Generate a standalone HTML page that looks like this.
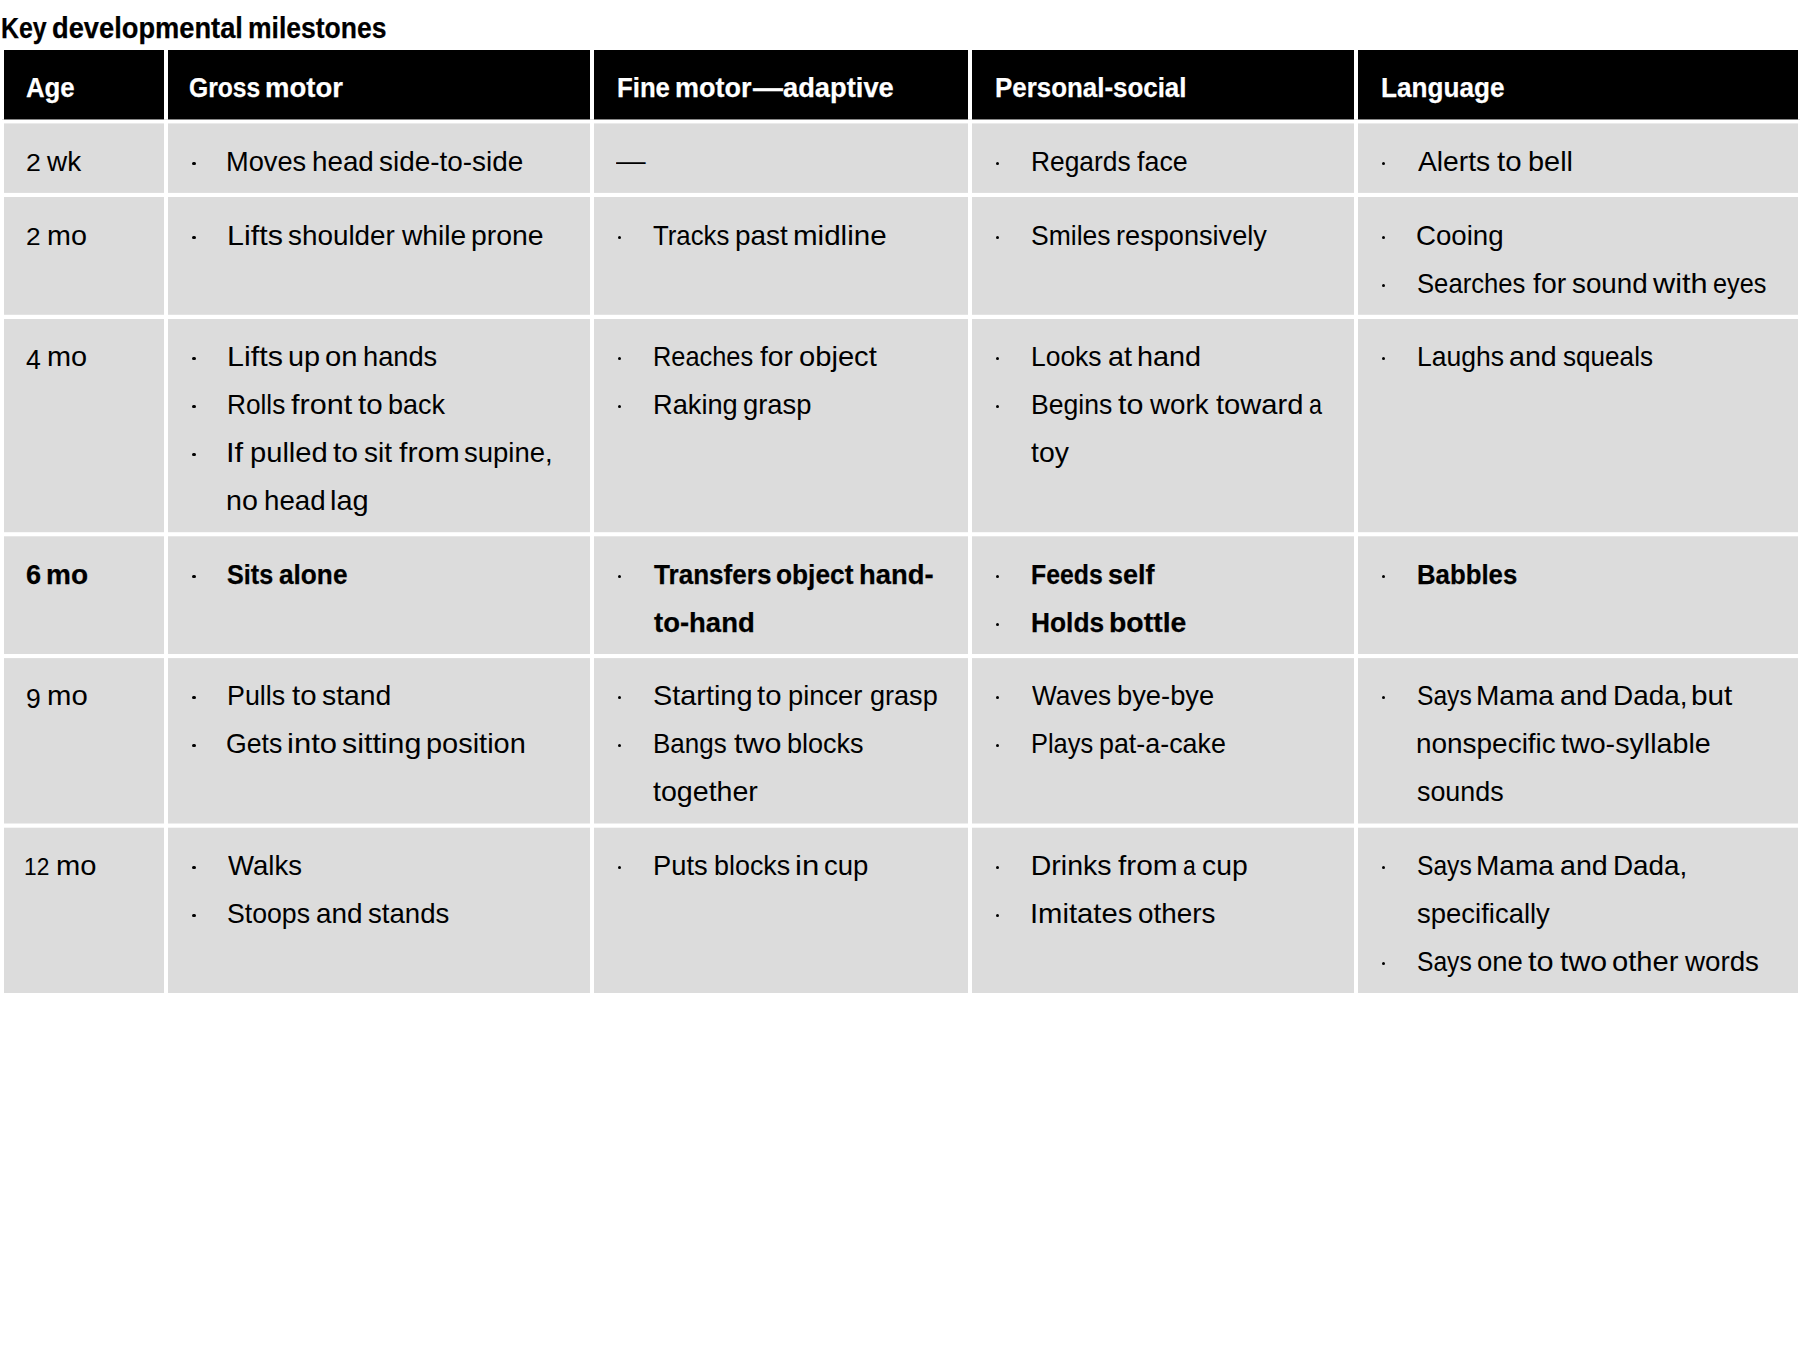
<!DOCTYPE html>
<html lang="en">
<head>
<meta charset="utf-8">
<title>Key developmental milestones</title>
<style>
html,body{margin:0;padding:0;background:#fff}
body{width:1802px;height:1350px;position:relative;overflow:hidden;font-family:"Liberation Sans",sans-serif;font-size:28.5px;color:#000}
h1{margin:0;font-size:29px;font-weight:bold;position:absolute;left:0;top:0;width:1802px;height:46px}
.bg{position:absolute;left:0;top:0;display:block}
.tbl{position:absolute;left:0;top:0;width:1802px}
.c{position:absolute}
.h{color:#fff;font-weight:bold}
.t{position:absolute;white-space:nowrap;line-height:1;transform-origin:0 0;display:block}
ul,li{margin:0;padding:0;list-style:none}
.b{position:absolute;width:3.4px;height:3.4px;border-radius:50%;background:#000}
.s .t{font-weight:bold}
.dx{font-size:.82em}
.dd{position:relative;top:.12em}
.h .t,.s .t,h1 .t{-webkit-text-stroke:.25px}
</style>
</head>
<body>
<svg class="bg" width="1802" height="1350" viewBox="0 0 1802 1350" aria-hidden="true"><rect x="2" y="119" width="1798" height="1" fill="#e2e2e2"/><g fill="#000"><rect x="4" y="50" width="160" height="69.4"/><rect x="168" y="50" width="422" height="69.4"/><rect x="594" y="50" width="374" height="69.4"/><rect x="972" y="50" width="382" height="69.4"/><rect x="1358" y="50" width="440" height="69.4"/></g><g fill="#dcdcdc"><rect x="4" y="123.4" width="160" height="69.5"/><rect x="168" y="123.4" width="422" height="69.5"/><rect x="594" y="123.4" width="374" height="69.5"/><rect x="972" y="123.4" width="382" height="69.5"/><rect x="1358" y="123.4" width="440" height="69.5"/></g><g fill="#dcdcdc"><rect x="4" y="197" width="160" height="117.8"/><rect x="168" y="197" width="422" height="117.8"/><rect x="594" y="197" width="374" height="117.8"/><rect x="972" y="197" width="382" height="117.8"/><rect x="1358" y="197" width="440" height="117.8"/></g><g fill="#dcdcdc"><rect x="4" y="319" width="160" height="213.2"/><rect x="168" y="319" width="422" height="213.2"/><rect x="594" y="319" width="374" height="213.2"/><rect x="972" y="319" width="382" height="213.2"/><rect x="1358" y="319" width="440" height="213.2"/></g><g fill="#dcdcdc"><rect x="4" y="536.3" width="160" height="117.7"/><rect x="168" y="536.3" width="422" height="117.7"/><rect x="594" y="536.3" width="374" height="117.7"/><rect x="972" y="536.3" width="382" height="117.7"/><rect x="1358" y="536.3" width="440" height="117.7"/></g><g fill="#dcdcdc"><rect x="4" y="658.1" width="160" height="165.4"/><rect x="168" y="658.1" width="422" height="165.4"/><rect x="594" y="658.1" width="374" height="165.4"/><rect x="972" y="658.1" width="382" height="165.4"/><rect x="1358" y="658.1" width="440" height="165.4"/></g><g fill="#dcdcdc"><rect x="4" y="827.7" width="160" height="165.3"/><rect x="168" y="827.7" width="422" height="165.3"/><rect x="594" y="827.7" width="374" height="165.3"/><rect x="972" y="827.7" width="382" height="165.3"/><rect x="1358" y="827.7" width="440" height="165.3"/></g></svg>
<h1><span class="t" style="left:0.8px;top:14.25px;transform:scaleX(0.8583);font-size:29px">Key</span> <span class="t" style="left:51.76px;top:14.25px;transform:scaleX(0.9403);font-size:29px">developmental</span> <span class="t" style="left:248.2px;top:14.25px;transform:scaleX(0.9136);font-size:29px">milestones</span></h1>
<div class="tbl" role="table">
<div role="row">
<div class="c h" role="columnheader" style="left:4px;top:50px;width:160px;height:69.4px"><span class="t" style="left:22.05px;top:22.87px;transform:scaleX(0.9048)">Age</span></div>
<div class="c h" role="columnheader" style="left:168px;top:50px;width:422px;height:69.4px"><span class="t" style="left:21.44px;top:22.87px;transform:scaleX(0.8648)">Gross</span> <span class="t" style="left:97.01px;top:22.87px;transform:scaleX(0.9651)">motor</span></div>
<div class="c h" role="columnheader" style="left:594px;top:50px;width:374px;height:69.4px"><span class="t" style="left:22.62px;top:22.87px;transform:scaleX(0.9036)">Fine</span> <span class="t" style="left:81.14px;top:22.87px;transform:scaleX(0.9460)">motor</span><span class="t" style="left:159.4px;top:22.87px;transform:scaleX(1.0491)">—</span><span class="t" style="left:189.38px;top:22.87px;transform:scaleX(0.9579)">adaptive</span></div>
<div class="c h" role="columnheader" style="left:972px;top:50px;width:382px;height:69.4px"><span class="t" style="left:22.61px;top:22.87px;transform:scaleX(0.9087)">Personal-social</span></div>
<div class="c h" role="columnheader" style="left:1358px;top:50px;width:440px;height:69.4px"><span class="t" style="left:22.59px;top:22.87px;transform:scaleX(0.9174)">Language</span></div>
</div>
<div role="row">
<div class="c" role="cell" style="left:4px;top:123.4px;width:160px;height:69.5px"><span class="t" style="left:21.87px;top:23.47px;transform:scaleX(1.1429)"><span class="dx">2</span></span> <span class="t" style="left:43px;top:23.47px;transform:scaleX(0.9784)">wk</span></div>
<div class="c" role="cell" style="left:168px;top:123.4px;width:422px;height:69.5px"><ul><li><i class="b" style="left:24.3px;top:38.5px"></i><span class="t" style="left:57.85px;top:23.47px;transform:scaleX(0.9548)">Moves</span> <span class="t" style="left:143.65px;top:23.47px;transform:scaleX(0.9748)">head</span> <span class="t" style="left:210.67px;top:23.47px;transform:scaleX(0.9797)">side-to-side</span></li>
</ul></div>
<div class="c" role="cell" style="left:594px;top:123.4px;width:374px;height:69.5px"><span class="t" style="left:22.4px;top:22.47px;transform:scaleX(1.0386)">—</span></div>
<div class="c" role="cell" style="left:972px;top:123.4px;width:382px;height:69.5px"><ul><li><i class="b" style="left:23.9px;top:38.5px"></i><span class="t" style="left:58.92px;top:23.47px;transform:scaleX(0.9244)">Regards</span> <span class="t" style="left:165.23px;top:23.47px;transform:scaleX(0.9423)">face</span></li>
</ul></div>
<div class="c" role="cell" style="left:1358px;top:123.4px;width:440px;height:69.5px"><ul><li><i class="b" style="left:23.8px;top:38.5px"></i><span class="t" style="left:59.9px;top:23.47px;transform:scaleX(0.9909)">Alerts</span> <span class="t" style="left:138.88px;top:23.47px;transform:scaleX(1.0318)">to</span> <span class="t" style="left:169.63px;top:23.47px;transform:scaleX(1.0135)">bell</span></li>
</ul></div>
</div>
<div role="row">
<div class="c" role="cell" style="left:4px;top:197px;width:160px;height:117.8px"><span class="t" style="left:22.4px;top:23.87px;transform:scaleX(1.1238)"><span class="dx">2</span></span> <span class="t" style="left:42.68px;top:23.87px;transform:scaleX(1.0082)">mo</span></div>
<div class="c" role="cell" style="left:168px;top:197px;width:422px;height:117.8px"><ul><li><i class="b" style="left:24.3px;top:38.9px"></i><span class="t" style="left:58.59px;top:23.87px;transform:scaleX(1.0694)">Lifts</span> <span class="t" style="left:119.97px;top:23.87px;transform:scaleX(0.9778)">shoulder</span> <span class="t" style="left:233.6px;top:23.87px;transform:scaleX(0.9882)">while</span> <span class="t" style="left:303.26px;top:23.87px;transform:scaleX(0.9957)">prone</span></li>
</ul></div>
<div class="c" role="cell" style="left:594px;top:197px;width:374px;height:117.8px"><ul><li><i class="b" style="left:23.6px;top:38.9px"></i><span class="t" style="left:59.22px;top:23.87px;transform:scaleX(0.9039)">Tracks</span> <span class="t" style="left:141.09px;top:23.87px;transform:scaleX(0.9788)">past</span> <span class="t" style="left:199.43px;top:23.87px;transform:scaleX(1.0368)">midline</span></li>
</ul></div>
<div class="c" role="cell" style="left:972px;top:197px;width:382px;height:117.8px"><ul><li><i class="b" style="left:23.9px;top:38.9px"></i><span class="t" style="left:58.74px;top:23.87px;transform:scaleX(0.9297)">Smiles</span> <span class="t" style="left:144.3px;top:23.87px;transform:scaleX(0.9523)">responsively</span></li>
</ul></div>
<div class="c" role="cell" style="left:1358px;top:197px;width:440px;height:117.8px"><ul><li><i class="b" style="left:23.8px;top:38.9px"></i><span class="t" style="left:58.44px;top:23.87px;transform:scaleX(0.9701)">Cooing</span></li>
<li><i class="b" style="left:23.8px;top:86.9px"></i><span class="t" style="left:58.77px;top:71.87px;transform:scaleX(0.9008)">Searches</span> <span class="t" style="left:174.6px;top:71.87px;transform:scaleX(0.9953)">for</span> <span class="t" style="left:213.77px;top:71.87px;transform:scaleX(0.9747)">sound</span> <span class="t" style="left:295.4px;top:71.87px;transform:scaleX(1.0769)">with</span> <span class="t" style="left:355.19px;top:71.87px;transform:scaleX(0.8862)">eyes</span></li>
</ul></div>
</div>
<div role="row">
<div class="c" role="cell" style="left:4px;top:319px;width:160px;height:213.2px"><span class="t" style="left:22px;top:22.87px;transform:scaleX(0.9333)"><span class="dd">4</span></span> <span class="t" style="left:43.27px;top:22.87px;transform:scaleX(1.0137)">mo</span></div>
<div class="c" role="cell" style="left:168px;top:319px;width:422px;height:213.2px"><ul><li><i class="b" style="left:24.3px;top:37.9px"></i><span class="t" style="left:58.59px;top:22.87px;transform:scaleX(1.0694)">Lifts</span> <span class="t" style="left:119.63px;top:22.87px;transform:scaleX(1.0122)">up</span> <span class="t" style="left:156.52px;top:22.87px;transform:scaleX(1.0246)">on</span> <span class="t" style="left:194.59px;top:22.87px;transform:scaleX(0.9557)">hands</span></li>
<li><i class="b" style="left:24.3px;top:85.9px"></i><span class="t" style="left:58.93px;top:70.87px;transform:scaleX(0.9200)">Rolls</span> <span class="t" style="left:123.36px;top:70.87px;transform:scaleX(1.0720)">front</span> <span class="t" style="left:190.08px;top:70.87px;transform:scaleX(1.0364)">to</span> <span class="t" style="left:219.94px;top:70.87px;transform:scaleX(0.9470)">back</span></li>
<li><i class="b" style="left:24.3px;top:133.9px"></i><span class="t" style="left:58.01px;top:118.87px;transform:scaleX(1.0868)">If</span> <span class="t" style="left:82.01px;top:118.87px;transform:scaleX(1.0221)">pulled</span> <span class="t" style="left:165.37px;top:118.87px;transform:scaleX(1.0545)">to</span> <span class="t" style="left:196.16px;top:118.87px;transform:scaleX(0.9818)">sit</span> <span class="t" style="left:230.77px;top:118.87px;transform:scaleX(1.0642)">from</span> <span class="t" style="left:295.98px;top:118.87px;transform:scaleX(0.9638)">supine,</span> <span class="t" style="left:58.49px;top:166.87px;transform:scaleX(1.0035)">no</span> <span class="t" style="left:95.56px;top:166.87px;transform:scaleX(0.9714)">head</span> <span class="t" style="left:161.87px;top:166.87px;transform:scaleX(1.0161)">lag</span></li>
</ul></div>
<div class="c" role="cell" style="left:594px;top:319px;width:374px;height:213.2px"><ul><li><i class="b" style="left:23.6px;top:37.9px"></i><span class="t" style="left:59px;top:22.87px;transform:scaleX(0.8897)">Reaches</span> <span class="t" style="left:165.5px;top:22.87px;transform:scaleX(0.9922)">for</span> <span class="t" style="left:204.52px;top:22.87px;transform:scaleX(1.0228)">object</span></li>
<li><i class="b" style="left:23.6px;top:85.9px"></i><span class="t" style="left:58.85px;top:70.87px;transform:scaleX(0.9550)">Raking</span> <span class="t" style="left:148.8px;top:70.87px;transform:scaleX(0.9600)">grasp</span></li>
</ul></div>
<div class="c" role="cell" style="left:972px;top:319px;width:382px;height:213.2px"><ul><li><i class="b" style="left:23.9px;top:37.9px"></i><span class="t" style="left:58.91px;top:22.87px;transform:scaleX(0.9278)">Looks</span> <span class="t" style="left:135.64px;top:22.87px;transform:scaleX(1.0112)">at</span> <span class="t" style="left:164.68px;top:22.87px;transform:scaleX(1.0118)">hand</span></li>
<li><i class="b" style="left:23.9px;top:85.9px"></i><span class="t" style="left:58.9px;top:70.87px;transform:scaleX(0.9325)">Begins</span> <span class="t" style="left:146.07px;top:70.87px;transform:scaleX(1.0682)">to</span> <span class="t" style="left:178.3px;top:70.87px;transform:scaleX(0.9726)">work</span> <span class="t" style="left:244.19px;top:70.87px;transform:scaleX(1.0222)">toward</span> <span class="t" style="left:337.27px;top:70.87px;transform:scaleX(0.8207)">a</span> <span class="t" style="left:59.4px;top:118.87px;transform:scaleX(0.9960)">toy</span></li>
</ul></div>
<div class="c" role="cell" style="left:1358px;top:319px;width:440px;height:213.2px"><ul><li><i class="b" style="left:23.8px;top:37.9px"></i><span class="t" style="left:58.91px;top:22.87px;transform:scaleX(0.9307)">Laughs</span> <span class="t" style="left:151.44px;top:22.87px;transform:scaleX(1.0045)">and</span> <span class="t" style="left:204.61px;top:22.87px;transform:scaleX(0.9161)">squeals</span></li>
</ul></div>
</div>
<div role="row" class=s>
<div class="c" role="cell" style="left:4px;top:536.3px;width:160px;height:117.7px"><span class="t" style="left:21.95px;top:23.57px;transform:scaleX(0.9500)">6</span> <span class="t" style="left:42.08px;top:23.57px;transform:scaleX(0.9825)">mo</span></div>
<div class="c" role="cell" style="left:168px;top:536.3px;width:422px;height:117.7px"><ul><li><i class="b" style="left:24.3px;top:38.6px"></i><span class="t" style="left:59.34px;top:23.57px;transform:scaleX(0.8832)">Sits</span> <span class="t" style="left:111.11px;top:23.57px;transform:scaleX(0.9196)">alone</span></li>
</ul></div>
<div class="c" role="cell" style="left:594px;top:536.3px;width:374px;height:117.7px"><ul><li><i class="b" style="left:23.6px;top:38.6px"></i><span class="t" style="left:59.67px;top:23.57px;transform:scaleX(0.9150)">Transfers</span> <span class="t" style="left:181.78px;top:23.57px;transform:scaleX(0.9221)">object</span> <span class="t" style="left:265.12px;top:23.57px;transform:scaleX(0.9619)">hand-</span><span class="t" style="left:59.66px;top:71.57px;transform:scaleX(0.9639)">to-hand</span></li>
</ul></div>
<div class="c" role="cell" style="left:972px;top:536.3px;width:382px;height:117.7px"><ul><li><i class="b" style="left:23.9px;top:38.6px"></i><span class="t" style="left:59.48px;top:23.57px;transform:scaleX(0.8704)">Feeds</span> <span class="t" style="left:136.35px;top:23.57px;transform:scaleX(0.9472)">self</span></li>
<li><i class="b" style="left:23.9px;top:86.6px"></i><span class="t" style="left:59.38px;top:71.57px;transform:scaleX(0.9233)">Holds</span> <span class="t" style="left:137.45px;top:71.57px;transform:scaleX(0.9973)">bottle</span></li>
</ul></div>
<div class="c" role="cell" style="left:1358px;top:536.3px;width:440px;height:117.7px"><ul><li><i class="b" style="left:23.8px;top:38.6px"></i><span class="t" style="left:59.42px;top:23.57px;transform:scaleX(0.9046)">Babbles</span></li>
</ul></div>
</div>
<div role="row">
<div class="c" role="cell" style="left:4px;top:658.1px;width:160px;height:165.4px"><span class="t" style="left:22.14px;top:22.77px;transform:scaleX(0.9283)"><span class="dd">9</span></span> <span class="t" style="left:42.65px;top:22.77px;transform:scaleX(1.0274)">mo</span></div>
<div class="c" role="cell" style="left:168px;top:658.1px;width:422px;height:165.4px"><ul><li><i class="b" style="left:24.3px;top:37.8px"></i><span class="t" style="left:58.88px;top:22.77px;transform:scaleX(0.9419)">Pulls</span> <span class="t" style="left:123.78px;top:22.77px;transform:scaleX(1.0318)">to</span> <span class="t" style="left:153.95px;top:22.77px;transform:scaleX(0.9940)">stand</span></li>
<li><i class="b" style="left:24.3px;top:85.8px"></i><span class="t" style="left:58.1px;top:70.77px;transform:scaleX(0.9351)">Gets</span> <span class="t" style="left:119.32px;top:70.77px;transform:scaleX(1.0877)">into</span> <span class="t" style="left:174.3px;top:70.77px;transform:scaleX(1.0662)">sitting</span> <span class="t" style="left:257.52px;top:70.77px;transform:scaleX(1.0159)">position</span></li>
</ul></div>
<div class="c" role="cell" style="left:594px;top:658.1px;width:374px;height:165.4px"><ul><li><i class="b" style="left:23.6px;top:37.8px"></i><span class="t" style="left:58.63px;top:22.77px;transform:scaleX(1.0126)">Starting</span> <span class="t" style="left:163.39px;top:22.77px;transform:scaleX(1.0273)">to</span> <span class="t" style="left:194.32px;top:22.77px;transform:scaleX(0.9576)">pincer</span> <span class="t" style="left:275.51px;top:22.77px;transform:scaleX(0.9498)">grasp</span></li>
<li><i class="b" style="left:23.6px;top:85.8px"></i><span class="t" style="left:58.95px;top:70.77px;transform:scaleX(0.9123)">Bangs</span> <span class="t" style="left:139.57px;top:70.77px;transform:scaleX(1.0690)">two</span> <span class="t" style="left:193.04px;top:70.77px;transform:scaleX(0.9487)">blocks</span> <span class="t" style="left:59.4px;top:118.77px;transform:scaleX(1.0029)">together</span></li>
</ul></div>
<div class="c" role="cell" style="left:972px;top:658.1px;width:382px;height:165.4px"><ul><li><i class="b" style="left:23.9px;top:37.8px"></i><span class="t" style="left:60.07px;top:22.77px;transform:scaleX(0.9192)">Waves</span> <span class="t" style="left:144.62px;top:22.77px;transform:scaleX(0.9584)">bye-bye</span></li>
<li><i class="b" style="left:23.9px;top:85.8px"></i><span class="t" style="left:58.99px;top:70.77px;transform:scaleX(0.8917)">Plays</span> <span class="t" style="left:127.25px;top:70.77px;transform:scaleX(0.9419)">pat-a-cake</span></li>
</ul></div>
<div class="c" role="cell" style="left:1358px;top:658.1px;width:440px;height:165.4px"><ul><li><i class="b" style="left:23.8px;top:37.8px"></i><span class="t" style="left:58.82px;top:22.77px;transform:scaleX(0.8639)">Says</span> <span class="t" style="left:118.09px;top:22.77px;transform:scaleX(0.9831)">Mama</span> <span class="t" style="left:202.44px;top:22.77px;transform:scaleX(1.0045)">and</span> <span class="t" style="left:255.2px;top:22.77px;transform:scaleX(0.9782)">Dada,</span> <span class="t" style="left:333.47px;top:22.77px;transform:scaleX(1.0437)">but</span> <span class="t" style="left:58.34px;top:70.77px;transform:scaleX(0.9803)">nonspecific</span> <span class="t" style="left:203.4px;top:70.77px;transform:scaleX(1.0058)">two-syllable</span> <span class="t" style="left:59.19px;top:118.77px;transform:scaleX(0.9422)">sounds</span></li>
</ul></div>
</div>
<div role="row">
<div class="c" role="cell" style="left:4px;top:827.7px;width:160px;height:165.3px"><span class="t" style="left:20.3px;top:23.17px;transform:scaleX(0.9739)"><span class="dx">12</span></span> <span class="t" style="left:51.76px;top:23.17px;transform:scaleX(1.0219)">mo</span></div>
<div class="c" role="cell" style="left:168px;top:827.7px;width:422px;height:165.3px"><ul><li><i class="b" style="left:24.3px;top:38.2px"></i><span class="t" style="left:60.06px;top:23.17px;transform:scaleX(0.9661)">Walks</span></li>
<li><i class="b" style="left:24.3px;top:86.2px"></i><span class="t" style="left:58.73px;top:71.17px;transform:scaleX(0.9353)">Stoops</span> <span class="t" style="left:147.68px;top:71.17px;transform:scaleX(0.9775)">and</span> <span class="t" style="left:199.87px;top:71.17px;transform:scaleX(0.9690)">stands</span></li>
</ul></div>
<div class="c" role="cell" style="left:594px;top:827.7px;width:374px;height:165.3px"><ul><li><i class="b" style="left:23.6px;top:38.2px"></i><span class="t" style="left:58.84px;top:23.17px;transform:scaleX(0.9581)">Puts</span> <span class="t" style="left:119.55px;top:23.17px;transform:scaleX(0.9436)">blocks</span> <span class="t" style="left:201.02px;top:23.17px;transform:scaleX(1.0904)">in</span> <span class="t" style="left:230.09px;top:23.17px;transform:scaleX(0.9655)">cup</span></li>
</ul></div>
<div class="c" role="cell" style="left:972px;top:827.7px;width:382px;height:165.3px"><ul><li><i class="b" style="left:23.9px;top:38.2px"></i><span class="t" style="left:58.75px;top:23.17px;transform:scaleX(1.0000)">Drinks</span> <span class="t" style="left:145.78px;top:23.17px;transform:scaleX(1.0477)">from</span> <span class="t" style="left:210.59px;top:23.17px;transform:scaleX(0.8069)">a</span> <span class="t" style="left:230.26px;top:23.17px;transform:scaleX(0.9931)">cup</span></li>
<li><i class="b" style="left:23.9px;top:86.2px"></i><span class="t" style="left:58.18px;top:71.17px;transform:scaleX(1.0260)">Imitates</span> <span class="t" style="left:165.58px;top:71.17px;transform:scaleX(0.9766)">others</span></li>
</ul></div>
<div class="c" role="cell" style="left:1358px;top:827.7px;width:440px;height:165.3px"><ul><li><i class="b" style="left:23.8px;top:38.2px"></i><span class="t" style="left:58.82px;top:23.17px;transform:scaleX(0.8639)">Says</span> <span class="t" style="left:118.09px;top:23.17px;transform:scaleX(0.9831)">Mama</span> <span class="t" style="left:202.44px;top:23.17px;transform:scaleX(1.0045)">and</span> <span class="t" style="left:255.2px;top:23.17px;transform:scaleX(0.9768)">Dada,</span> <span class="t" style="left:59.18px;top:71.17px;transform:scaleX(0.9642)">specifically</span></li>
<li><i class="b" style="left:23.8px;top:134.2px"></i><span class="t" style="left:58.82px;top:119.17px;transform:scaleX(0.8639)">Says</span> <span class="t" style="left:118.89px;top:119.17px;transform:scaleX(0.9644)">one</span> <span class="t" style="left:170.06px;top:119.17px;transform:scaleX(1.0773)">to</span> <span class="t" style="left:202.17px;top:119.17px;transform:scaleX(1.0620)">two</span> <span class="t" style="left:254.12px;top:119.17px;transform:scaleX(1.0213)">other</span> <span class="t" style="left:326.7px;top:119.17px;transform:scaleX(0.9733)">words</span></li>
</ul></div>
</div>
</div>
</body>
</html>
